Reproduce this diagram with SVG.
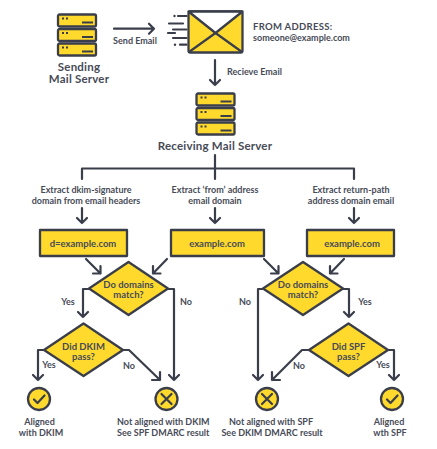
<svg xmlns="http://www.w3.org/2000/svg" width="437" height="449" viewBox="0 0 437 449">
<style>
text{font-family:"Lato","Liberation Sans",sans-serif;fill:#474b57;font-weight:700;font-size:9px;text-anchor:middle}
.b{font-size:11.5px;letter-spacing:.2px}
.s{text-anchor:start}
.m{font-size:9.500px}
.y{fill:#ffd92c;stroke:#3a3e4a;stroke-width:2.300;stroke-linejoin:round}
.l{fill:none;stroke:#3a3e4a;stroke-width:2.200;stroke-linecap:round;stroke-linejoin:round}
.d{fill:#3a3e4a}
</style>
<defs>
<g id="srv">
<rect class="y" x="1" y="1" width="38" height="12" rx="1.500"/>
<rect class="d" x="5" y="4" width="2" height="2"/><rect class="d" x="9" y="4" width="2" height="2"/>
<rect class="d" x="25" y="8" width="11" height="2"/>
</g>
<g id="stack"><use href="#srv"/><use href="#srv" y="14.500"/><use href="#srv" y="29"/></g>
</defs>
<rect width="437" height="449" fill="#fff"/>

<g id="connectors">
<path class="l" d="M114 28.700H154M149 23.700l5 5-5 5"/>
<path class="l" d="M215 60V85M210 80l5 5 5-5"/>
<path class="l" d="M82 179V168.500H354V179M215 155V179"/>
<path class="l" d="M82 208V223M77 218l5 5 5-5"/>
<path class="l" d="M215 208V223M210 218l5 5 5-5"/>
<path class="l" d="M354 208V223M349 218l5 5 5-5"/>
<path class="l" d="M86 259 100.500 273.500M93 273.500h7.500v-7.500"/>
<path class="l" d="M167 259 153 273.500M160.500 273.500h-7.500v-7.500"/>
<path class="l" d="M264 259 278.500 273.500M271 273.500h7.500v-7.500"/>
<path class="l" d="M344 259 330 273.500M337.500 273.500h-7.500v-7.500"/>
<path class="l" d="M89 289H83V317M78 312l5 5 5-5"/>
<path class="l" d="M168 289H174V380M169 375l5 5 5-5"/>
<path class="l" d="M44 350H38V380M33 375l5 5 5-5"/>
<path class="l" d="M123 350H129L160 380M152 380h8v-8"/>
<path class="l" d="M264 289H258V380M253 375l5 5 5-5"/>
<path class="l" d="M343 289H349V317M344 312l5 5 5-5"/>
<path class="l" d="M309 350H302L272 380M280 380h-8v-8"/>
<path class="l" d="M388 350H394V380M389 375l5 5 5-5"/>
</g>

<g id="sending-server"><use href="#stack" x="57" y="13.500"/><text class="b" x="79" y="71">Sending</text><text class="b" x="79" y="83">Mail Server</text></g>
<text x="135" y="44">Send Email</text>

<g id="envelope">
<path class="l" d="M178 16h8.500M169 23.500h14M173 29.500h13.500M168 33h7M173 38h13.500M180 44.700h6.500"/>
<circle class="d" cx="174.500" cy="16" r="1.200"/><circle class="d" cx="175" cy="44.700" r="1.200"/>
<rect class="y" x="188.500" y="11.500" width="54" height="41" rx="2"/>
<path d="M188.500 11.500H242.500L215.500 33Z" fill="#fff" stroke="#3a3e4a" stroke-width="2.300" stroke-linejoin="round"/>
<path class="l" d="M189 52 215.500 33 242 52"/>
</g>
<g id="from-address"><text class="s" x="253" y="30" style="font-size:9.500px;letter-spacing:.3px">FROM ADDRESS:</text><text class="s" x="253" y="41">someone@example.com</text></g>
<text class="s" x="227" y="75">Recieve Email</text>

<g id="receiving-server"><use href="#stack" x="195.500" y="92.500"/><text class="b" x="215" y="150">Receiving Mail Server</text></g>

<g id="extract-dkim"><text x="86" y="193">Extract dkim-signature</text><text x="86" y="203.500">domain from email headers</text></g>
<g id="extract-from"><text x="215" y="193">Extract ‘from’ address</text><text x="215" y="203.500">email domain</text></g>
<g id="extract-return"><text x="351" y="193">Extract return-path</text><text x="351" y="203.500">address domain email</text></g>

<g id="box-dkim"><rect class="y" x="40" y="230" width="87" height="26"/><text class="m" x="83" y="246.500">d=example.com</text></g>
<g id="box-from"><rect class="y" x="171" y="230" width="93" height="26"/><text class="m" x="217" y="246.500">example.com</text></g>
<g id="box-return"><rect class="y" x="307" y="230" width="87" height="26"/><text class="m" x="352" y="246.500">example.com</text></g>

<g id="d-match-left"><path class="y" d="M128.500 262 168 288.500 128.500 315 89 288.500Z"/><text class="m" x="128.500" y="288">Do domains</text><text class="m" x="128.500" y="297.500">match?</text></g>
<g id="d-match-right"><path class="y" d="M303 262 343 288.500 303 315 263 288.500Z"/><text class="m" x="303" y="288">Do domains</text><text class="m" x="303" y="297.500">match?</text></g>
<g id="d-dkim"><path class="y" d="M83.500 323.500 123 350 83.500 376 44 350Z"/><text class="m" x="83.500" y="350">Did DKIM</text><text class="m" x="83.500" y="359.500">pass?</text></g>
<g id="d-spf"><path class="y" d="M348.500 323.500 388 350 348.500 376 309 350Z"/><text class="m" x="348.500" y="350">Did SPF</text><text class="m" x="348.500" y="359.500">pass?</text></g>

<g id="edge-labels">
<text x="68" y="305">Yes</text><text x="186" y="305">No</text>
<text x="245" y="305">No</text><text x="365" y="305">Yes</text>
<text x="49" y="368">Yes</text><text x="129" y="369">No</text>
<text x="299" y="369">No</text><text x="383" y="368">Yes</text>
</g>

<g id="aligned-dkim"><circle class="y" cx="39" cy="399" r="11"/><path class="l" d="M34 399.500l3.500 3.500 7-7.500"/><text x="39.500" y="425">Aligned</text><text x="41" y="435.500">with DKIM</text></g>
<g id="not-aligned-dkim"><circle class="y" cx="166.500" cy="399" r="11"/><path class="l" d="M161.500 394l10 10m0-10-10 10"/><text class="s" x="117" y="425">Not aligned with DKIM</text><text class="s" x="117" y="435.500">See SPF DMARC result</text></g>
<g id="not-aligned-spf"><circle class="y" cx="267" cy="399" r="11"/><path class="l" d="M262 394l10 10m0-10-10 10"/><text x="271" y="425">Not aligned with SPF</text><text x="272" y="435.500">See DKIM DMARC result</text></g>
<g id="aligned-spf"><circle class="y" cx="392" cy="399" r="11"/><path class="l" d="M387 399.500l3.500 3.500 7-7.500"/><text x="389" y="425">Aligned</text><text x="390" y="435.500">wth SPF</text></g>
</svg>
